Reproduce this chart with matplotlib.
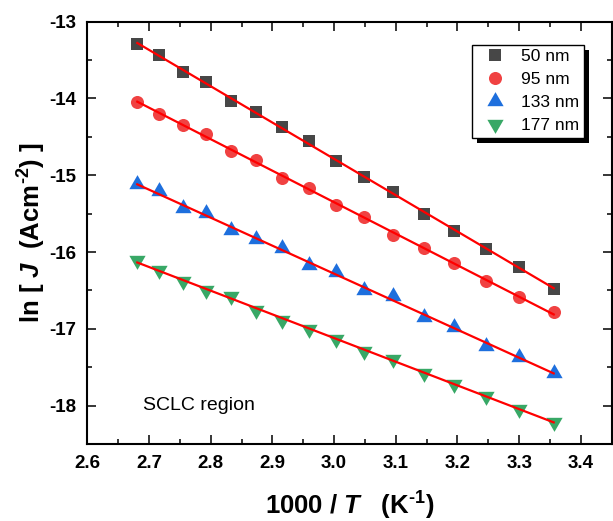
import numpy as np
import matplotlib
matplotlib.use("Agg")
import matplotlib.pyplot as plt
from matplotlib.patches import Rectangle
from matplotlib.transforms import IdentityTransform
from matplotlib.ticker import MultipleLocator

# 1000/T values (K^-1)
inv_T = [2.681, 2.717, 2.755, 2.793, 2.833, 2.874, 2.915, 2.959,
         3.003, 3.049, 3.096, 3.145, 3.195, 3.247, 3.300, 3.356]

# ln J for each film thickness
lnJ_50 = [-13.29, -13.44, -13.65, -13.78, -14.03, -14.18, -14.37, -14.56,
          -14.81, -15.02, -15.22, -15.50, -15.72, -15.96, -16.19, -16.48]
lnJ_95 = [-14.04, -14.20, -14.35, -14.46, -14.68, -14.80, -15.04, -15.16,
          -15.39, -15.54, -15.78, -15.95, -16.14, -16.38, -16.59, -16.78]
lnJ_133 = [-15.12, -15.21, -15.43, -15.49, -15.71, -15.83, -15.95, -16.17,
           -16.26, -16.50, -16.57, -16.84, -16.97, -17.22, -17.37, -17.57]
lnJ_177 = [-16.11, -16.23, -16.38, -16.50, -16.57, -16.76, -16.88, -17.00,
           -17.13, -17.29, -17.39, -17.58, -17.72, -17.88, -18.04, -18.21]

labels = ["50 nm", "95 nm", "133 nm", "177 nm"]
x_ticks = [2.6, 2.7, 2.8, 2.9, 3.0, 3.1, 3.2, 3.3, 3.4]
y_ticks = [-18, -17, -16, -15, -14, -13]

plt.rcParams["font.family"] = ["Liberation Sans", "DejaVu Sans"]
plt.rcParams["mathtext.fontset"] = "custom"
plt.rcParams["mathtext.rm"] = "Liberation Sans:bold"
plt.rcParams["mathtext.bf"] = "Liberation Sans:bold"
plt.rcParams["mathtext.it"] = "Liberation Sans:bold:italic"

W, H = 613, 521
fig = plt.figure(figsize=(W / 100, H / 100), dpi=100)
L, R, T, B = 87.3, 611.7, 21.7, 444.0
ax = fig.add_axes([L / W, 1 - B / H, (R - L) / W, (B - T) / H])

styles = [
    dict(marker="s", color="#474747", ms=8.4),
    dict(marker="o", color="#F04242", ms=9.4),
    dict(marker=(3, 0, 0), color="#1E6FDD", ms=13.5),
    dict(marker=(3, 0, 180), color="#38A866", ms=13.5),
]
series = [lnJ_50, lnJ_95, lnJ_133, lnJ_177]
x = np.array(inv_T)

for y, st, lab in zip(series, styles, labels):
    y = np.array(y)
    ax.plot(x, y, linestyle="none", marker=st["marker"], ms=st["ms"],
            color=st["color"], markeredgewidth=0, label=lab, zorder=3)
    k, b = np.polyfit(x, y, 1)
    xf = np.array([x.min(), x.max()])
    ax.plot(xf, k * xf + b, color="#FF0000", lw=1.6, zorder=4)

ax.set_xlim(2.6, 3.45)
ax.set_ylim(-18.5, -13)
ax.set_xticks(x_ticks)
ax.set_xticklabels([f"{v:.1f}" for v in x_ticks])
ax.set_yticks(y_ticks)
ax.set_yticklabels([f"{v:d}" for v in y_ticks])
ax.xaxis.set_minor_locator(MultipleLocator(0.05))
ax.yaxis.set_minor_locator(MultipleLocator(0.5))

ax.tick_params(which="both", direction="in", top=True, right=True, width=1.1)
ax.tick_params(which="major", length=6.5, labelsize=13.5, pad=8)
ax.tick_params(which="minor", length=3.4)
for lbl in ax.get_xticklabels() + ax.get_yticklabels():
    lbl.set_fontweight("bold")
for sp in ax.spines.values():
    sp.set_linewidth(1.5)

ax.set_xlabel(r"1000 / $T$   (K$^{\text{-1}}$)", fontsize=18.5, fontweight="bold",
              labelpad=13)
ax.set_ylabel(r"ln [ $J$  (Acm$^{\text{-2}}$) ]", fontsize=18.5, fontweight="bold",
              labelpad=1)

ax.text(2.69, -18.0, "SCLC region", fontsize=14, ha="left", va="center")

leg = ax.legend(loc="upper right", bbox_to_anchor=(0.947, 0.945), borderaxespad=0,
                fontsize=12.5, frameon=True, fancybox=False, edgecolor="black",
                framealpha=1, borderpad=0.25, handlelength=2.2, handletextpad=0.4,
                labelspacing=0.45)
leg.get_frame().set_linewidth(1.0)

fig.canvas.draw()
bb = leg.get_frame().get_window_extent(fig.canvas.get_renderer())
shadow = Rectangle((bb.x0 + 5, bb.y0 - 5), bb.width, bb.height,
                   transform=IdentityTransform(), facecolor="black",
                   edgecolor="none", zorder=leg.get_zorder() - 0.1)
ax.add_patch(shadow)

fig.savefig("out.png", dpi=100)
